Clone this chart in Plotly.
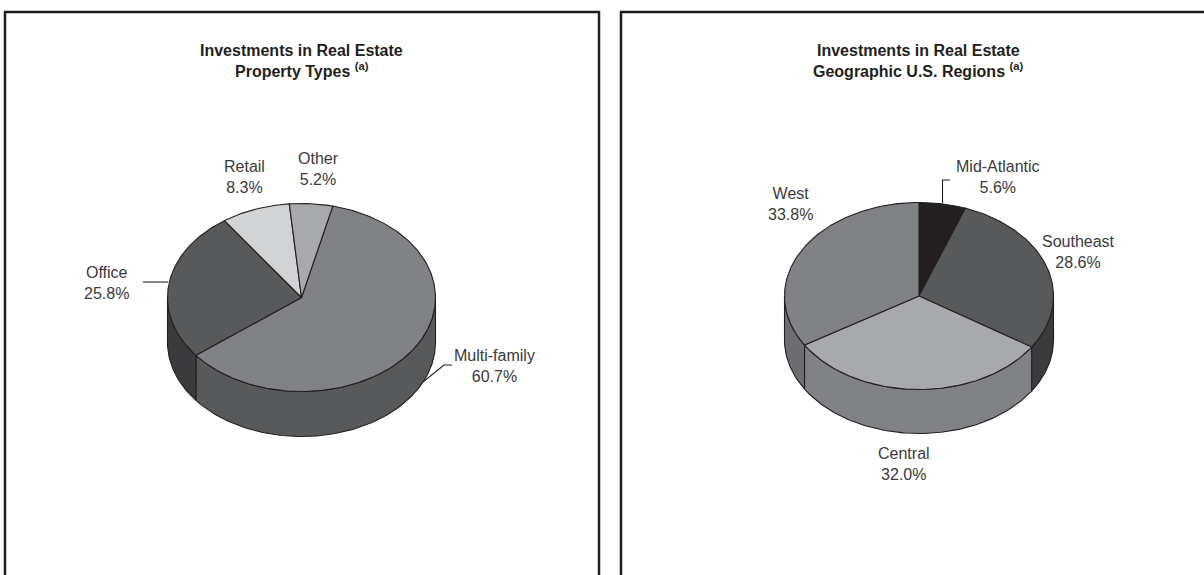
import numpy as np
import plotly.graph_objects as go

# ---- data -------------------------------------------------------------
property_types = ["Multi-family", "Office", "Retail", "Other"]
property_shares = [60.7, 25.8, 8.3, 5.2]

regions = ["Mid-Atlantic", "Southeast", "Central", "West"]
region_shares = [5.6, 28.6, 32.0, 33.8]

# ---- styles -----------------------------------------------------------
property_top = ["#808285", "#58595b", "#d1d3d4", "#a7a9ac"]
property_side = ["#58595b", "#3b3b3d", "#a7a9ac", "#808285"]
region_top = ["#231f20", "#58595b", "#a7a9ac", "#808285"]
region_side = ["#151314", "#3b3b3d", "#808285", "#6d6e71"]

EDGE = "#231f20"
TEXT = "#3a3a3c"
FONT = "Liberation Sans, Arial, Helvetica, sans-serif"
W, H = 1204, 575

# pie geometry in page pixels: centre, radii, thickness, first-slice angle
left_pie = dict(cx=301.5, cy=297.5, rx=134, ry=94, depth=45, start=76.5)
right_pie = dict(cx=919, cy=296, rx=134.5, ry=93.5, depth=44, start=90)

# label anchor points (centre of the two-line label)
property_label_pos = [(494, 366), (106, 283), (244, 177), (318, 169)]
region_label_pos = [(998, 177), (1078, 252), (904, 464), (790, 204)]

# leader lines
left_leaders = [[(143, 282), (168, 282)],
                [(452, 365), (444, 365), (423, 382)]]
right_leaders = [[(950, 180), (942.5, 180), (942.5, 203)]]

fig = go.Figure()


def arc(p, t0, t1, dy=0.0, n=None):
    n = n or max(int(abs(t1 - t0)) + 2, 3)
    t = np.radians(np.linspace(t0, t1, n))
    return p["cx"] + p["rx"] * np.cos(t), p["cy"] - p["ry"] * np.sin(t) + dy


def add_poly(x, y, color):
    fig.add_trace(go.Scatter(
        x=np.append(x, x[0]), y=np.append(y, y[0]), mode="lines",
        fill="toself", fillcolor=color,
        line=dict(color=EDGE, width=1.1),
        hoverinfo="skip", showlegend=False))


def draw_pie(p, shares, tops, sides):
    total = float(sum(shares))
    bounds = []
    acc = 0.0
    for s in shares:
        hi = p["start"] - acc / total * 360.0
        acc += s
        lo = p["start"] - acc / total * 360.0
        bounds.append((lo, hi))

    # outer walls: only the front half of the rim (sin t < 0) is visible
    for (lo, hi), col in zip(bounds, sides):
        for k in range(-2, 2):
            a, b = max(lo, 180 + 360 * k), min(hi, 360 + 360 * k)
            if b - a > 0.05:
                xt, yt = arc(p, a, b)
                xb, yb = arc(p, b, a, dy=p["depth"])
                add_poly(np.concatenate([xt, xb]), np.concatenate([yt, yb]), col)

    # top faces
    for (lo, hi), col in zip(bounds, tops):
        xa, ya = arc(p, hi, lo)
        add_poly(np.concatenate([[p["cx"]], xa]),
                 np.concatenate([[p["cy"]], ya]), col)


draw_pie(left_pie, property_shares, property_top, property_side)
draw_pie(right_pie, region_shares, region_top, region_side)

for line in left_leaders + right_leaders:
    xs, ys = zip(*line)
    fig.add_trace(go.Scatter(x=xs, y=ys, mode="lines",
                             line=dict(color=EDGE, width=1.1),
                             hoverinfo="skip", showlegend=False))

annotations = []
for names, shares, pos in ((property_types, property_shares, property_label_pos),
                           (regions, region_shares, region_label_pos)):
    for name, share, (x, y) in zip(names, shares, pos):
        annotations.append(dict(
            x=x, y=y, xref="x", yref="y", showarrow=False,
            text=f"{name}<br>{share:.1f}%", align="center",
            xanchor="center", yanchor="middle",
            font=dict(family=FONT, size=16, color=TEXT)))

titles = [(301.5, "Property Types"), (918, "Geographic U.S. Regions")]
for x, sub in titles:
    annotations.append(dict(
        x=x, y=50, xref="x", yref="y", showarrow=False,
        text="<b>Investments in Real Estate</b>",
        xanchor="center", yanchor="middle",
        font=dict(family=FONT, size=16, color=EDGE)))
    annotations.append(dict(
        x=x, y=70, xref="x", yref="y", showarrow=False,
        text=f"<b>{sub} <sup>(a)</sup></b>",
        xanchor="center", yanchor="middle",
        font=dict(family=FONT, size=16, color=EDGE)))

# panel frames (open at the bottom / right edge of the page)
shapes = [
    dict(type="rect", xref="x", yref="y", x0=5, x1=599, y0=12, y1=600,
         line=dict(color=EDGE, width=2.5)),
    dict(type="rect", xref="x", yref="y", x0=621, x1=1230, y0=12, y1=600,
         line=dict(color=EDGE, width=2.5)),
]

fig.update_layout(
    width=W, height=H,
    margin=dict(l=0, r=0, t=0, b=0),
    paper_bgcolor="white", plot_bgcolor="white",
    xaxis=dict(range=[0, W], visible=False, fixedrange=True),
    yaxis=dict(range=[H, 0], visible=False, fixedrange=True),
    annotations=annotations, shapes=shapes,
    showlegend=False,
)

fig.write_html("out.html", config={"displayModeBar": False})
